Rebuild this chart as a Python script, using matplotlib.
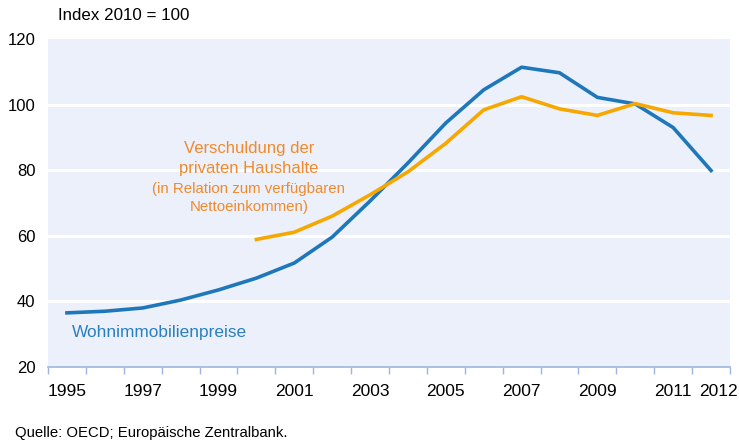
import matplotlib.pyplot as plt
import numpy as np

plt.rcParams['font.family'] = ['Liberation Sans', 'DejaVu Sans']

# house prices (1995-2012) and household debt (2000-2012), index 2010 = 100
years_prices = np.arange(1995, 2013)
prices = [36.5, 37.0, 38.0, 40.4, 43.5, 47.1, 51.7, 59.6, 70.6, 82.2,
          94.4, 104.5, 111.4, 109.7, 102.2, 100.2, 93.0, 79.9]
years_debt = np.arange(2000, 2013)
debt = [58.9, 61.1, 66.0, 72.5, 79.5, 88.2, 98.4, 102.4, 98.7, 96.7,
        100.3, 97.5, 96.7]
tick_labels = ['1995', '1997', '1999', '2001', '2003', '2005', '2007',
               '2009', '2011', '2012']
yticks = [20, 40, 60, 80, 100, 120]

blue = '#1f77bb'
orange = '#f7a800'
bg = '#ebf0fa'

fig = plt.figure(figsize=(7.39, 4.44), dpi=100)
ax = fig.add_axes([48 / 739, 77 / 444, 682 / 739, 328 / 444])
ax.set_facecolor(bg)

for y in yticks[1:-1]:
    ax.axhline(y, color='white', lw=2.2, zorder=1)

ax.plot(years_prices, prices, color=blue, lw=2.6, zorder=3)
ax.plot(years_debt, debt, color=orange, lw=2.6, zorder=3)

ax.set_xlim(1994.5, 2012.5)
ax.set_ylim(20, 120)

# tick marks between the years, labels in the middle of each year
ax.set_xticks(np.arange(1994.5, 2013, 1.0))
ax.set_xticklabels([])
ax.tick_params(axis='x', which='major', direction='out', length=5,
               width=1, color='#9db5e0')
pos = [int(t) for t in tick_labels]
pos[-1] = 2012.2
ax.set_xticks(pos, minor=True)
ax.set_xticklabels(tick_labels, minor=True, fontsize=12.5)
ax.tick_params(axis='x', which='minor', length=0, pad=12)

ax.set_yticks(yticks)
ax.set_yticklabels([str(v) for v in yticks], fontsize=12)
ax.tick_params(axis='y', length=0, pad=9)

for s in ['top', 'right', 'left']:
    ax.spines[s].set_visible(False)
ax.spines['bottom'].set_color('#9db5e0')
ax.spines['bottom'].set_linewidth(1.2)

ax.text(1995.13, 30.5, 'Wohnimmobilienpreise', color='#2a7fc0',
        fontsize=12.4, va='center')
ax.text(1999.8, 83.5, 'Verschuldung der\nprivaten Haushalte',
        color='#f08a2c', fontsize=12, ha='center', va='center',
        linespacing=1.4)
ax.text(1999.8, 71.5, '(in Relation zum verfügbaren\nNettoeinkommen)',
        color='#f08a2c', fontsize=10.8, ha='center', va='center',
        linespacing=1.3)

fig.text(58 / 739, 1 - 16 / 444, 'Index 2010 = 100', fontsize=12.2,
         va='center')
fig.text(15 / 739, 1 - 433 / 444, 'Quelle: OECD; Europäische Zentralbank.',
         fontsize=10.7, va='center')

fig.savefig('out.png', dpi=100)
